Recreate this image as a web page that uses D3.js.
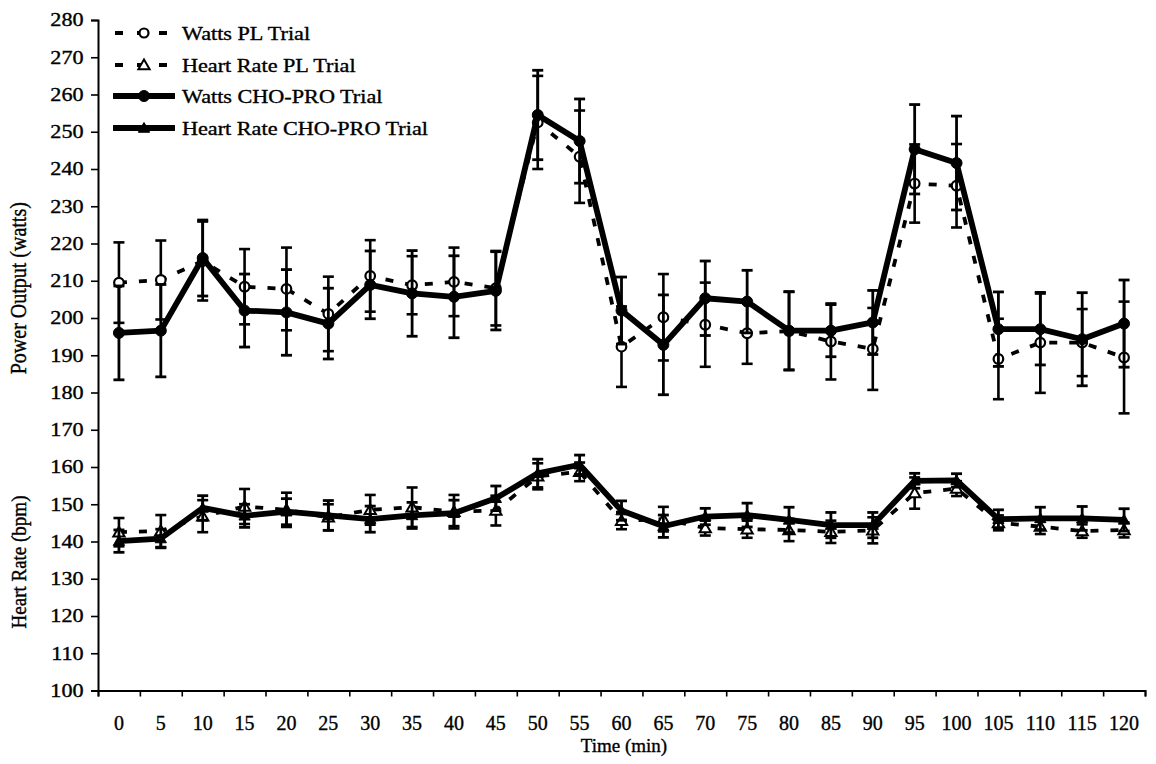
<!DOCTYPE html>
<html>
<head>
<meta charset="utf-8">
<script src="https://cdn.jsdelivr.net/npm/d3@7"></script>
<style>
  html, body { margin: 0; padding: 0; background: #fff; }
  svg { display: block; }
</style>
</head>
<body>
<script>
// ---------------- data ----------------
const times = [0,5,10,15,20,25,30,35,40,45,50,55,60,65,70,75,80,85,90,95,100,105,110,115,120];

const wattsPL      = [209.5,210.2,215.3,208.4,207.8,201.1,211.3,208.8,209.7,208.0,252.5,243.3,192.3,200.2,198.2,195.9,196.5,193.7,191.7,236.1,235.5,189.0,193.4,193.4,189.4];
const wattsPLErr   = [10.8,10.6,10.6,10.1,11.1,10.0,9.6,7.8,9.2,10.0,12.5,12.4,10.8,11.6,11.3,8.2,10.5,10.2,11.0,10.5,11.2,10.8,13.5,9.0,15.0];
const wattsCHO     = [196.0,196.6,216.1,202.0,201.5,198.5,208.9,206.6,205.7,207.3,254.5,247.5,202.0,192.8,205.3,204.4,196.6,196.6,198.8,245.3,241.6,197.0,197.0,194.3,198.5];
const wattsCHOErr  = [12.6,12.4,10.2,9.8,11.5,9.5,9.1,11.5,11.0,10.5,12.0,11.3,9.0,13.4,10.0,8.4,10.5,7.0,8.6,12.0,12.6,10.0,9.6,12.5,11.7];

const hrPL         = [142.5,142.8,146.8,149.4,148.5,146.5,148.5,149.2,148.0,148.3,157.5,158.7,145.6,146.0,143.6,143.3,143.1,142.6,143.0,153.0,154.2,145.0,144.0,142.8,143.1];
const hrPLErr      = [3.8,4.3,4.3,4.7,4.6,3.5,4.0,5.3,4.5,4.0,3.5,2.5,2.3,3.3,2.0,2.3,3.0,3.0,3.5,4.2,2.0,2.0,2.0,1.8,2.0];
const hrCHO        = [140.1,140.8,149.0,146.9,148.0,147.0,146.0,147.0,147.6,151.6,158.3,160.6,148.3,144.1,146.7,147.1,145.8,144.4,144.4,156.3,156.4,146.0,146.2,146.2,145.8];
const hrCHOErr     = [3.0,2.5,3.3,3.1,3.5,4.0,3.5,3.5,3.5,3.3,3.8,2.6,2.6,3.0,2.2,3.2,3.4,3.4,3.4,2.0,1.8,2.5,3.0,3.2,3.0];

const yTicks = d3.range(100, 281, 10);
const legendLabels = ["Watts PL Trial","Heart Rate PL Trial","Watts CHO-PRO Trial","Heart Rate CHO-PRO Trial"];
const yTitleTop = "Power Output (watts)";
const yTitleBottom = "Heart Rate (bpm)";
const xTitle = "Time (min)";

// ---------------- layout ----------------
const W = 1156, H = 764;
const FONT = "'Liberation Serif', 'Times New Roman', serif";
const mLeft = 98, mRight = 1145, mTop = 20, mBottom = 690.5;

const svg = d3.select("body").append("svg").attr("width", W).attr("height", H);
svg.append("rect").attr("width", W).attr("height", H).attr("fill", "#fff");

const x = d3.scaleBand().domain(times).range([mLeft, mRight]).padding(0);
const xEdge = d3.scaleLinear().domain([0, times.length]).range([mLeft, mRight]);
const y = d3.scaleLinear().domain([100, 280]).range([mBottom, mTop]);
const cx = t => x(t) + x.bandwidth() / 2;

function inkText(sel) {
  sel.attr("fill", "#000").attr("stroke", "#000").attr("stroke-width", 0.35).style("font-family", FONT);
}

// ---------------- axes ----------------
const gy = svg.append("g").attr("transform", `translate(${mLeft},0)`)
  .call(d3.axisLeft(y).tickValues(yTicks).tickSize(7).tickPadding(5).tickFormat(d3.format("d")));
gy.select(".domain").attr("stroke", "#000").attr("stroke-width", 2);
gy.selectAll(".tick line").attr("stroke", "#000").attr("stroke-width", 1.6);
gy.selectAll(".tick text").call(inkText).style("font-size", "18.5px")
  .attr("transform", "scale(1.2,1)");

// x tick marks at band boundaries
const gxTicks = svg.append("g").attr("transform", `translate(0,${mBottom})`)
  .call(d3.axisBottom(xEdge).tickValues(d3.range(0, times.length + 1)).tickSize(6).tickFormat(""));
gxTicks.select(".domain").attr("stroke", "#000").attr("stroke-width", 2);
gxTicks.selectAll(".tick line").attr("stroke", "#000").attr("stroke-width", 1.6);

// x labels centered in bands
const gx = svg.append("g").attr("transform", `translate(0,${mBottom})`)
  .call(d3.axisBottom(x).tickSize(0).tickPadding(25));
gx.select(".domain").remove();
gx.selectAll(".tick text").call(inkText).style("font-size", "20px");

// axis titles
svg.append("text")
  .attr("transform", `translate(26,${y(208)}) rotate(-90) scale(1,1.15)`)
  .attr("text-anchor", "middle").style("font-size", "20px").call(inkText)
  .text(yTitleTop);
svg.append("text")
  .attr("transform", `translate(26,${y(134.5)}) rotate(-90) scale(1,1.15)`)
  .attr("text-anchor", "middle").style("font-size", "19px").call(inkText)
  .text(yTitleBottom);
svg.append("text")
  .attr("x", 624).attr("y", 752)
  .attr("text-anchor", "middle").style("font-size", "19px").call(inkText)
  .text(xTitle);

// ---------------- series ----------------
const plot = svg.append("g");
const tri = d3.symbol().type(d3.symbolTriangle).size(55);

function errorBars(vals, errs, sw) {
  const g = plot.append("g").attr("stroke", "#000").attr("stroke-width", sw).attr("fill", "none");
  times.forEach((t, i) => {
    const xc = cx(t), y1 = y(vals[i] + errs[i]), y0 = y(vals[i] - errs[i]);
    g.append("line").attr("x1", xc).attr("x2", xc).attr("y1", y1).attr("y2", y0);
    g.append("line").attr("x1", xc - 5.5).attr("x2", xc + 5.5).attr("y1", y1).attr("y2", y1);
    g.append("line").attr("x1", xc - 5.5).attr("x2", xc + 5.5).attr("y1", y0).attr("y2", y0);
  });
}

function seriesLine(vals, dashed) {
  const line = d3.line().x((d, i) => cx(times[i])).y(d => y(d));
  plot.append("path").datum(vals).attr("d", line).attr("fill", "none").attr("stroke", "#000")
    .attr("stroke-width", dashed ? 3.8 : 5.8)
    .attr("stroke-dasharray", dashed ? "8,12" : null)
    .attr("stroke-linejoin", "round");
}

function circles(vals, open) {
  plot.append("g").selectAll("circle").data(vals).join("circle")
    .attr("cx", (d, i) => cx(times[i])).attr("cy", d => y(d))
    .attr("r", open ? 4.8 : 5.5)
    .attr("fill", open ? "#fff" : "#000").attr("stroke", "#000").attr("stroke-width", open ? 2.2 : 1);
}

function triangles(vals, open) {
  plot.append("g").selectAll("path").data(vals).join("path")
    .attr("d", tri)
    .attr("transform", (d, i) => `translate(${cx(times[i])},${y(d) + 1})`)
    .attr("fill", open ? "#fff" : "#000").attr("stroke", "#000").attr("stroke-width", open ? 2 : 1);
}

// PL (drawn first)
errorBars(wattsPL, wattsPLErr, 2.6);
errorBars(hrPL, hrPLErr, 2.6);
seriesLine(wattsPL, true);
seriesLine(hrPL, true);
circles(wattsPL, true);
triangles(hrPL, true);

// CHO-PRO (on top)
errorBars(wattsCHO, wattsCHOErr, 2.8);
errorBars(hrCHO, hrCHOErr, 2.8);
seriesLine(wattsCHO, false);
seriesLine(hrCHO, false);
circles(wattsCHO, false);
triangles(hrCHO, false);

// ---------------- legend ----------------
const legRows = [33, 65, 96, 128];
const lg = svg.append("g");
legendLabels.forEach((lab, i) => {
  const yy = legRows[i];
  const dashed = i < 2;
  lg.append("line").attr("x1", 113).attr("x2", 175).attr("y1", yy).attr("y2", yy)
    .attr("stroke", "#000").attr("stroke-width", dashed ? 3.8 : 5.8)
    .attr("stroke-dasharray", dashed ? "8,14" : null)
    .attr("stroke-dashoffset", dashed ? -2 : null);
  if (i === 0 || i === 2) {
    lg.append("circle").attr("cx", 144).attr("cy", yy).attr("r", dashed ? 4.5 : 5.5)
      .attr("fill", dashed ? "#fff" : "#000").attr("stroke", "#000").attr("stroke-width", dashed ? 2.2 : 1);
  } else {
    lg.append("path").attr("d", tri).attr("transform", `translate(144,${yy + 1})`)
      .attr("fill", dashed ? "#fff" : "#000").attr("stroke", "#000").attr("stroke-width", dashed ? 2 : 1);
  }
  lg.append("g").attr("transform", `translate(182,${yy + 6.5})`)
    .append("text").attr("transform", "scale(1.2,1)")
    .style("font-size", "18.5px").call(inkText).text(lab);
});
</script>
</body>
</html>
